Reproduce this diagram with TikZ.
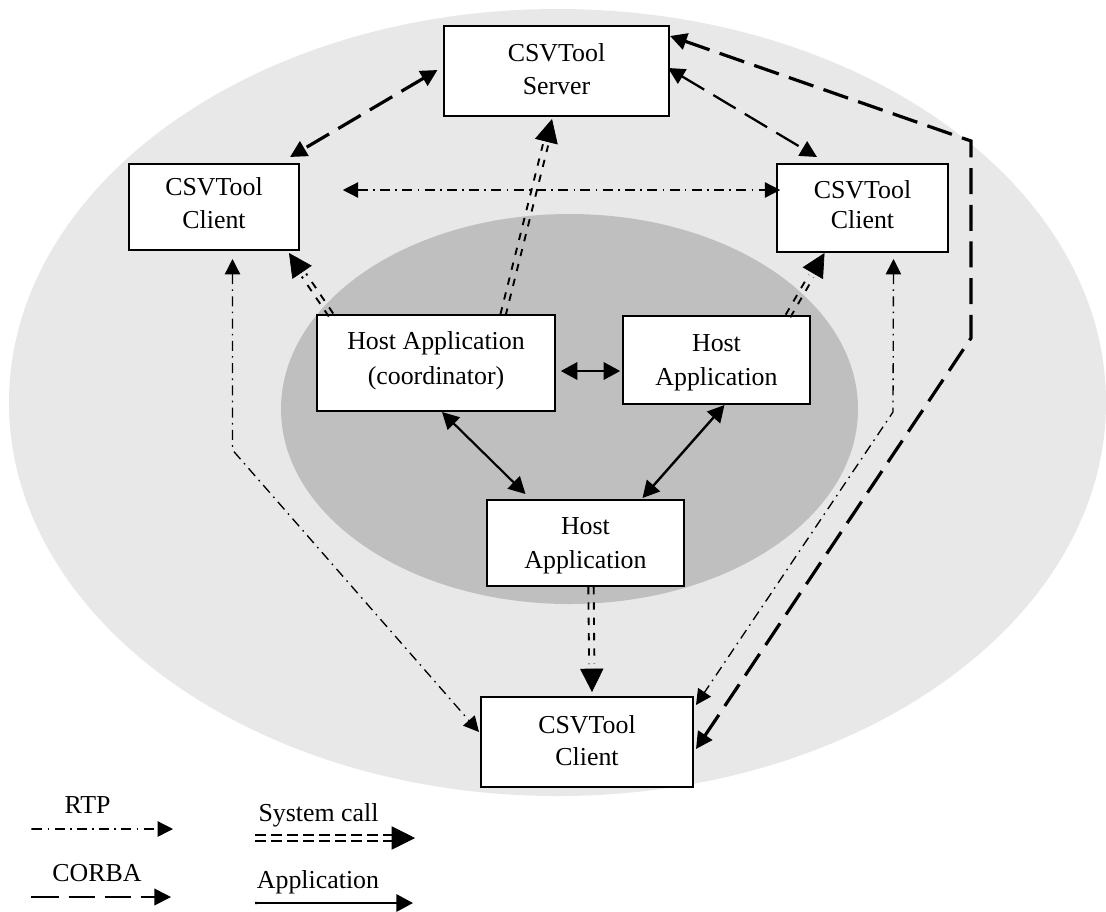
\documentclass[tikz,border=0pt]{standalone}
\usepackage{fontspec}
\setmainfont{Liberation Serif}
\usetikzlibrary{arrows.meta,calc}
\def\syssep{2pt}
\newcommand{\syscall}[4][]{%
  \draw[syspair,#1,shorten >=#4pt] ($(#2)!\syssep!90:(#3)$) -- ($(#3)!\syssep!-90:(#2)$);
  \draw[syspair,#1,shorten >=#4pt] ($(#2)!\syssep!-90:(#3)$) -- ($(#3)!\syssep!90:(#2)$);
  \draw[syshead] ($(#3)!15pt!(#2)$) -- (#3);
}
\newcommand{\twol}[4]{\raisebox{#1}[\height][\depth]{\vbox{\baselineskip=#2\halign{\hfil##\hfil\cr #3\cr #4\cr}}}}
\tikzset{
  x=0.75pt,y=-0.75pt,
  box/.style={draw=black,fill=white,line width=1.15pt,inner sep=0pt,
    font=\fontsize{19.4}{22.5}\selectfont},
  lbl/.style={inner sep=0pt,font=\fontsize{19.4}{22.5}\selectfont},
  corba/.style={draw=black,line width=1.7pt,dash pattern=on 19.5pt off 8pt,
    {Triangle[length=12.5pt,width=12.5pt]}-{Triangle[length=12.5pt,width=12.5pt]}},
  corbathick/.style={corba,line width=2.4pt},
  rtp/.style={draw=black,line width=1pt,dash pattern=on 7.5pt off 4pt on 1.2pt off 4pt,
    {Triangle[length=11.5pt,width=11.5pt]}-{Triangle[length=11.5pt,width=11.5pt]}},
  syspair/.style={draw=black,line width=1.4pt,dash pattern=on 5.5pt off 6pt},
  syshead/.style={draw=black,line width=0.5pt,-{Triangle[length=17.5pt,width=17.5pt]}},
  appl/.style={draw=black,line width=1.6pt,
    {Triangle[length=12.5pt,width=13pt]}-{Triangle[length=12.5pt,width=13pt]}},
}
\begin{document}
\begin{tikzpicture}
\useasboundingbox (0,0) rectangle (1106,911);
\fill[white] (0,0) rectangle (1106,911);
\fill[black!9] (557.5,402.5) ellipse [x radius=548.5,y radius=393.5];
\fill[black!25] (569.5,409) ellipse [x radius=288.5,y radius=195];

\node[box,minimum width=168.75pt,minimum height=67.5pt] (srv) at (556.5,71) {\twol{1.1pt}{24.75pt}{CSVTool}{Server}};
\node[box,minimum width=127.5pt,minimum height=64.5pt] (cl) at (214,207) {\twol{2.6pt}{24.75pt}{CSVTool}{Client}};
\node[box,minimum width=128.25pt,minimum height=66pt] (cr) at (862.5,208) {\twol{2.2pt}{22.5pt}{CSVTool}{Client}};
\node[box,minimum width=178.5pt,minimum height=72pt] (hc) at (436,363) {\twol{1.5pt}{26pt}{Host Application}{(coordinator)}};
\node[box,minimum width=140.25pt,minimum height=66pt] (hr) at (716.5,360) {\twol{-2.2pt}{25.5pt}{Host}{Application}};
\node[box,minimum width=147.75pt,minimum height=64.5pt] (hb) at (585.5,543) {\twol{-2.2pt}{25pt}{Host}{Application}};
\node[box,minimum width=159pt,minimum height=67.5pt] (cb) at (587,742) {\twol{0.7pt}{24pt}{CSVTool}{Client}};

% system calls
\coordinate (s1a) at ($(hc.center)+(-105,-48)$);
\coordinate (s1b) at ($(cl.center)+(75,46)$);
\coordinate (s2a) at ($(hc.center)+(67,-48)$);
\coordinate (s2b) at ($(srv.center)+(-4.5,48)$);
\coordinate (s3a) at ($(hr.center)+(71.5,-44)$);
\coordinate (s3b) at ($(cr.center)+(-38,45)$);
\coordinate (s4a) at ($(hb.center)+(5.5,44)$);
\coordinate (s4b) at ($(cb.center)+(5,-50)$);
\syscall{s1a}{s1b}{20}
\syscall{s2a}{s2b}{20}
\syscall{s3a}{s3b}{20}
\syscall{s4a}{s4b}{21}

% CORBA
\coordinate (c1a) at ($(srv.center)+(-119,-1)$);
\coordinate (c1b) at ($(cl.center)+(76,-50)$);
\draw[corbathick] (c1a) -- (c1b);
\coordinate (c2a) at ($(srv.center)+(111.5,-3)$);
\coordinate (c2b) at ($(cr.center)+(-45.5,-51)$);
\draw[corba] (c2a) -- (c2b);
\coordinate (c3a) at ($(srv.center)+(113.5,-35)$);
\coordinate (k1) at (971,141);
\coordinate (k2) at (971,338);
\coordinate (c3b) at ($(cb.center)+(109,7)$);
\draw[corbathick] (c3a) -- (k1) -- (k2) -- (c3b);

% RTP
\coordinate (r1a) at ($(cl.east)+(43,-17)$);
\coordinate (r1b) at ($(cr.west)+(4,-18)$);
\draw[rtp] (r1a) -- (r1b);
\coordinate (r2a) at ($(cl.center)+(18.5,52)$);
\coordinate (k3) at (232.5,450);
\coordinate (r2b) at ($(cb.center)+(-108,-10)$);
\draw[rtp] (r2a) -- (k3) -- (r2b);
\coordinate (r3a) at ($(cr.center)+(31,51)$);
\coordinate (k4) at (893,412);
\coordinate (r3b) at ($(cb.center)+(109,-37)$);
\draw[rtp] (r3a) -- (k4) -- (r3b);

% Application
\draw[appl,line width=2pt] ($(hc.east)+(5,8)$) -- ($(hr.west)+(-2,11)$);
\draw[appl] ($(hc.center)+(6,49)$) -- ($(hb.center)+(-60,-49)$);
\draw[appl,line width=1.8pt] ($(hr.center)+(8,45)$) -- ($(hb.center)+(57,-45)$);

% Legend
\node[lbl] (lrtp) at (87.5,805) {RTP};
\node[lbl] (lcorba) at (97,873) {CORBA};
\node[lbl] (lsys) at (318.5,815) {System call};
\node[lbl] (lapp) at (318,882) {Application};
\coordinate (l1a) at (31,829);
\coordinate (l1b) at (173,829);
\draw[rtp,{Butt Cap}-{Triangle[length=11.5pt,width=11.5pt]}] (l1a) -- (l1b);
\coordinate (l2a) at (31,897);
\coordinate (l2b) at (171,897);
\draw[corba,line width=1.3pt,dash pattern=on 20pt off 7pt,{Butt Cap}-{Triangle[length=12.5pt,width=12.5pt]}] (l2a) -- (l2b);
\coordinate (l3a) at (255,838);
\coordinate (l3b) at (415,838);
\def\syssep{2.2pt}
\syscall[line width=1pt,dash pattern=on 8pt off 4pt]{l3a}{l3b}{17.5}
\coordinate (l4a) at (255,903);
\coordinate (l4b) at (413,903);
\draw[appl,{Butt Cap}-{Triangle[length=12.5pt,width=13pt]}] (l4a) -- (l4b);
\end{tikzpicture}
\end{document}
